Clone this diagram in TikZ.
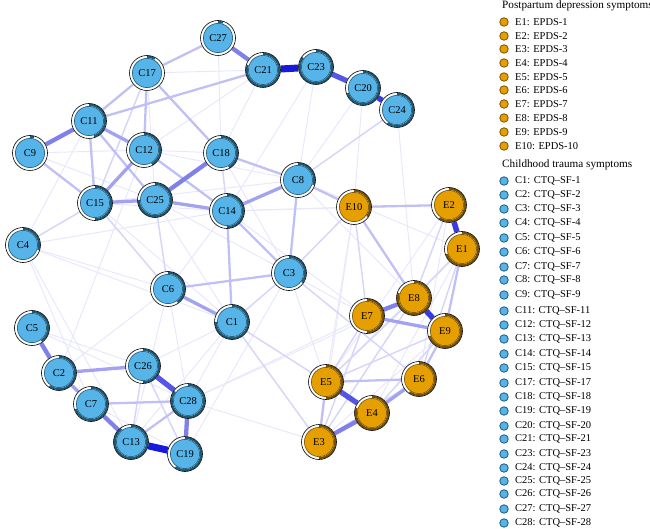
\documentclass[tikz,border=0pt]{standalone}
\usepackage{fontspec}
\setmainfont{Liberation Serif}
\pgfdeclarelayer{edgelayer}
\pgfsetlayers{edgelayer,main}
\definecolor{cfill}{HTML}{56B4E9}
\definecolor{cdark}{HTML}{1D5A78}
\definecolor{efill}{HTML}{E69F00}
\definecolor{edark}{HTML}{7A5200}
\definecolor{c1}{RGB}{232,232,252}
\definecolor{c2}{RGB}{214,214,250}
\definecolor{c3}{RGB}{192,192,246}
\definecolor{c4}{RGB}{162,162,241}
\definecolor{c5}{RGB}{128,128,236}
\definecolor{c6}{RGB}{85,85,230}
\definecolor{c7}{RGB}{25,25,222}
\tikzset{
  nd/.style={circle, draw=black, line width=0.6pt, fill=white, minimum size=35pt, inner sep=0pt, font=\fontsize{10.5}{10.5}\selectfont},
  pc/.style={nd, path picture={
     \fill[cfill, draw=cdark, line width=0.6pt] (path picture bounding box.center) circle (14.6pt);
     \draw[cdark, line width=2.1pt] ([shift={(90:16.2pt)}]path picture bounding box.center) arc[start angle=90, delta angle={-360*#1}, radius=16.2pt];}},
  pe/.style={nd, path picture={
     \fill[efill, draw=edark, line width=0.6pt] (path picture bounding box.center) circle (14.6pt);
     \draw[edark, line width=2.1pt] ([shift={(90:16.2pt)}]path picture bounding box.center) arc[start angle=90, delta angle={-360*#1}, radius=16.2pt];}},
  w1/.style={c1, line width=1pt},
  w2/.style={c2, line width=1.5pt},
  w3/.style={c3, line width=2.3pt},
  w4/.style={c4, line width=3.3pt},
  w5/.style={c5, line width=4.3pt},
  w6/.style={c6, line width=5.3pt},
  w7/.style={c7, line width=7pt},
  legdot/.style={circle, minimum size=8.5pt, inner sep=0pt, line width=0.8pt},
  legtxt/.style={anchor=west, inner sep=0pt, font=\fontsize{10.5}{10.5}\selectfont},
  legtitle/.style={anchor=west, inner sep=0pt, font=\fontsize{11.2}{11.2}\selectfont}
}
\begin{document}
\begin{tikzpicture}[x=1pt,y=-1pt]
\useasboundingbox (0,0) rectangle (650,529);
% nodes
\node[pc=0.05] (C27) at (218,38) {C27};
\node[pc=0.08] (C17) at (147,73) {C17};
\node[pc=0.8] (C21) at (263,70) {C21};
\node[pc=0.85] (C23) at (316,67) {C23};
\node[pc=0.7] (C20) at (363,88) {C20};
\node[pc=0.6] (C24) at (397,110) {C24};
\node[pc=0.45] (C11) at (89,121) {C11};
\node[pc=0.04] (C9) at (30,153) {C9};
\node[pc=0.42] (C12) at (144,150) {C12};
\node[pc=0.42] (C18) at (221,153) {C18};
\node[pc=0.5] (C15) at (95,203) {C15};
\node[pc=0.75] (C25) at (155,200) {C25};
\node[pc=0.5] (C14) at (227,211) {C14};
\node[pc=0.3] (C8) at (298,180) {C8};
\node[pe=0.35] (E10) at (354,207) {E10};
\node[pe=0.6] (E2) at (449,205) {E2};
\node[pe=0.7] (E1) at (462,249) {E1};
\node[pc=0.3] (C4) at (23,245) {C4};
\node[pc=0.35] (C3) at (289,273) {C3};
\node[pc=0.4] (C6) at (168,289) {C6};
\node[pc=0.75] (C1) at (232,322) {C1};
\node[pe=0.8] (E8) at (414,298) {E8};
\node[pe=0.5] (E7) at (367,316) {E7};
\node[pe=0.7] (E9) at (445,331) {E9};
\node[pc=0.4] (C5) at (32,328) {C5};
\node[pc=0.6] (C2) at (59,373) {C2};
\node[pc=0.5] (C26) at (143,366) {C26};
\node[pc=0.85] (C28) at (188,401) {C28};
\node[pc=0.7] (C7) at (91,404) {C7};
\node[pc=0.9] (C13) at (131,442) {C13};
\node[pc=0.6] (C19) at (185,454) {C19};
\node[pe=0.5] (E5) at (326,382) {E5};
\node[pe=0.6] (E6) at (419,379) {E6};
\node[pe=0.8] (E4) at (372,413) {E4};
\node[pe=0.5] (E3) at (319,442) {E3};
\begin{pgfonlayer}{edgelayer}
\foreach \a/\b in {C17/C21,C27/C18,C20/C8,C20/E10,C23/C14,C21/C12,C4/C14,C4/C11,C4/C7,C4/C13,C4/C1,C4/C6,C9/C12,C12/C8,C12/C18,C15/C1,C15/C8,C25/C3,C25/C1,C14/E10,C14/E7,C14/E2,C8/E8,C8/E1,C3/E7,C3/E5,C1/C28,C6/C28,C6/C13,C5/C26,C5/C28,C2/C12,C28/E7,C28/E8,C28/E3,C13/C1,C24/E8,E10/E5,E10/E3,E2/E5,E2/E6,E1/E5,E1/E4,E3/E9,C7/C19,C15/C14,C17/C25,C21/C18,C23/C8,C9/C25,C2/C6,C26/C1,C19/C3,C14/C6,C18/C3}
  \draw[w1] (\a) -- (\b);
\foreach \a/\b in {C18/C14,C3/E6,C3/E10,C6/C25,C26/C19,C8/C24,C1/E3,E1/E8,E2/E8,E10/E7,E8/E5,E9/E4,E9/E5,E7/E3,E7/E5,E1/E6,E3/E6,E3/E8,C26/C13,C4/C15,C17/C15,C15/C6,C1/E5,C3/C1}
  \draw[w2] (\a) -- (\b);
\foreach \a/\b in {C7/C28,C13/C28,C11/C15,C11/C25,C11/C21,C12/C14,C8/C3,C6/C3,E5/E6,E5/E3,E6/E9,E1/E9,E10/E8,E2/E10,C8/E10,C9/C15,C11/C17,C17/C27,C17/C12,C17/C18,C18/C8,C14/C3,C14/C1}
  \draw[w3] (\a) -- (\b);
\foreach \a/\b in {C25/C14,C14/C8,C6/C1,C2/C7,C2/C26,C12/C15,C11/C12,E7/E9,E4/E6,C15/C25}
  \draw[w4] (\a) -- (\b);
\foreach \a/\b in {C9/C11,C5/C2,C7/C13,C28/C19,C25/C18,C27/C21,E4/E3,E7/E8}
  \draw[w5] (\a) -- (\b);
\foreach \a/\b in {C23/C20,C26/C28,E5/E4}
  \draw[w6] (\a) -- (\b);
\foreach \a/\b in {C20/C24,E2/E1,E8/E9}
  \draw[c7!85!white, line width=5.5pt] (\a) -- (\b);
\foreach \a/\b in {C21/C23,C13/C19}
  \draw[w7] (\a) -- (\b);
\end{pgfonlayer}
% legend
\node[legtitle] (tE) at (502,6) {Postpartum depression symptoms};
\foreach \i/\y in {1/22,2/36,3/49,4/63,5/77,6/90,7/104,8/118,9/132,10/146}{
  \node[legdot, fill=efill, draw=edark] (lE\i) at (504,\y) {};
  \node[legtxt] (tE\i) at (515,\y) {E\i: EPDS-\i};
}
\node[legtitle] (tC) at (502,165) {Childhood trauma symptoms};
\foreach \i/\y in {1/181,2/195,3/209,4/223,5/238,6/252,7/267,8/280,9/295,11/311,12/325,13/339,14/354,15/368,17/383,18/397,19/411,20/426,21/439,23/454,24/468,25/481,26/494,27/509,28/523}{
  \node[legdot, fill=cfill, draw=cdark] (lC\i) at (504,\y) {};
  \node[legtxt] (tC\i) at (515,\y) {C\i: CTQ--SF-\i};
}
\end{tikzpicture}
\end{document}
